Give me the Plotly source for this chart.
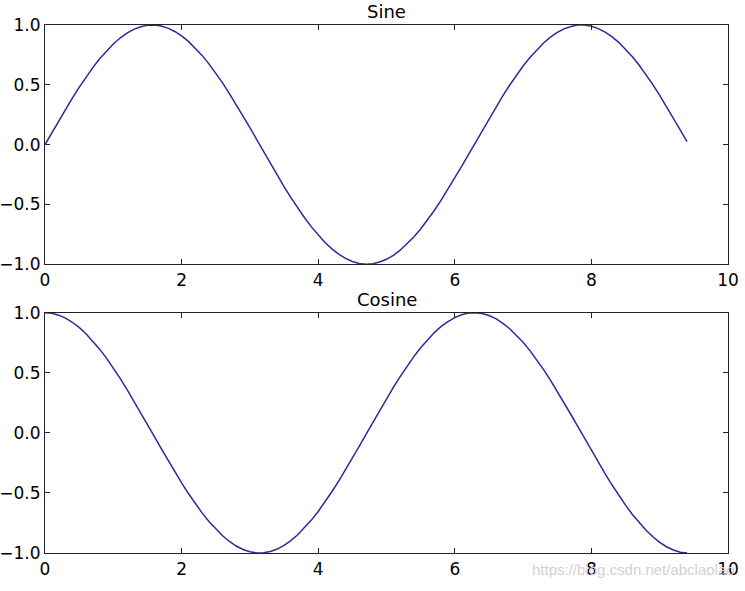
import plotly.graph_objects as go
from plotly.subplots import make_subplots

# x samples (0 .. ~3*pi, step 0.1) and the values
x_vals = [0.0, 0.1, 0.2, 0.3, 0.4, 0.5, 0.6, 0.7, 0.8, 0.9,
          1.0, 1.1, 1.2, 1.3, 1.4, 1.5, 1.6, 1.7, 1.8, 1.9,
          2.0, 2.1, 2.2, 2.3, 2.4, 2.5, 2.6, 2.7, 2.8, 2.9,
          3.0, 3.1, 3.2, 3.3, 3.4, 3.5, 3.6, 3.7, 3.8, 3.9,
          4.0, 4.1, 4.2, 4.3, 4.4, 4.5, 4.6, 4.7, 4.8, 4.9,
          5.0, 5.1, 5.2, 5.3, 5.4, 5.5, 5.6, 5.7, 5.8, 5.9,
          6.0, 6.1, 6.2, 6.3, 6.4, 6.5, 6.6, 6.7, 6.8, 6.9,
          7.0, 7.1, 7.2, 7.3, 7.4, 7.5, 7.6, 7.7, 7.8, 7.9,
          8.0, 8.1, 8.2, 8.3, 8.4, 8.5, 8.6, 8.7, 8.8, 8.9,
          9.0, 9.1, 9.2, 9.3, 9.4]

sine_vals = [0.000, 0.100, 0.199, 0.296, 0.389, 0.479, 0.565, 0.644, 0.717, 0.783,
             0.841, 0.891, 0.932, 0.964, 0.985, 0.997, 1.000, 0.992, 0.974, 0.946,
             0.909, 0.863, 0.808, 0.746, 0.675, 0.598, 0.516, 0.427, 0.335, 0.239,
             0.141, 0.042, -0.058, -0.158, -0.256, -0.351, -0.443, -0.530, -0.612, -0.688,
             -0.757, -0.818, -0.872, -0.916, -0.952, -0.978, -0.994, -1.000, -0.996, -0.982,
             -0.959, -0.926, -0.883, -0.832, -0.773, -0.706, -0.631, -0.551, -0.465, -0.374,
             -0.279, -0.182, -0.083, 0.017, 0.117, 0.215, 0.312, 0.405, 0.494, 0.578,
             0.657, 0.729, 0.794, 0.850, 0.899, 0.938, 0.968, 0.988, 0.999, 0.999,
             0.989, 0.970, 0.941, 0.902, 0.855, 0.798, 0.734, 0.663, 0.585, 0.501,
             0.412, 0.319, 0.223, 0.124, 0.025]

cosine_vals = [1.000, 0.995, 0.980, 0.955, 0.921, 0.878, 0.825, 0.765, 0.697, 0.622,
               0.540, 0.454, 0.362, 0.267, 0.170, 0.071, -0.029, -0.129, -0.227, -0.323,
               -0.416, -0.505, -0.589, -0.666, -0.737, -0.801, -0.857, -0.904, -0.942, -0.971,
               -0.990, -0.999, -0.998, -0.987, -0.967, -0.936, -0.897, -0.848, -0.791, -0.726,
               -0.654, -0.575, -0.490, -0.401, -0.307, -0.211, -0.112, -0.012, 0.088, 0.187,
               0.284, 0.378, 0.469, 0.554, 0.635, 0.709, 0.776, 0.835, 0.886, 0.927,
               0.960, 0.983, 0.997, 1.000, 0.993, 0.977, 0.951, 0.914, 0.869, 0.815,
               0.754, 0.685, 0.609, 0.527, 0.439, 0.347, 0.251, 0.153, 0.054, -0.046,
               -0.146, -0.244, -0.340, -0.432, -0.519, -0.602, -0.679, -0.748, -0.811, -0.865,
               -0.911, -0.948, -0.975, -0.993, -1.000]

titles = ["Sine", "Cosine"]
x_ticks = [0, 2, 4, 6, 8, 10]
y_ticks = [-1.0, -0.5, 0.0, 0.5, 1.0]
y_tick_labels = ["\u22121.0", "\u22120.5", "0.0", "0.5", "1.0"]
watermark = "https://blog.csdn.net/abclaolao"

line_color = "#2a2a9c"
font_main = "DejaVu Sans"

fig = make_subplots(rows=2, cols=1)

fig.add_trace(go.Scatter(x=x_vals, y=sine_vals, mode="lines",
                         line=dict(color=line_color, width=1.5), showlegend=False), row=1, col=1)
fig.add_trace(go.Scatter(x=x_vals, y=cosine_vals, mode="lines",
                         line=dict(color=line_color, width=1.5), showlegend=False), row=2, col=1)

axis_style = dict(showline=True, linecolor="#222222", linewidth=1.2, mirror="ticks",
                  ticks="inside", ticklen=5, tickcolor="#222222", showgrid=False, zeroline=False,
                  automargin=False,
                  tickfont=dict(family=font_main, size=17, color="black"))

fig.update_xaxes(range=[0, 10], tickvals=x_ticks, **axis_style)
fig.update_yaxes(range=[-1, 1], tickvals=y_ticks, ticktext=y_tick_labels, **axis_style)

fig.update_layout(
    width=745, height=591,
    margin=dict(l=45, r=17, t=25, b=38),
    paper_bgcolor="white", plot_bgcolor="white",
    xaxis=dict(domain=[0, 1]), xaxis2=dict(domain=[0, 1]),
    yaxis=dict(domain=[0.547, 1.0]), yaxis2=dict(domain=[0.0, 0.455]),
)

# subplot titles
fig.add_annotation(text=titles[0], xref="paper", yref="paper", x=0.5, y=1.0, yshift=1,
                   xanchor="center", yanchor="bottom", showarrow=False,
                   font=dict(family=font_main, size=18, color="black"))
fig.add_annotation(text=titles[1], xref="paper", yref="paper", x=0.5, y=0.455, yshift=1,
                   xanchor="center", yanchor="bottom", showarrow=False,
                   font=dict(family=font_main, size=18, color="black"))

# watermark
fig.add_annotation(text=watermark, xref="paper", yref="paper", x=1.013, y=-0.032,
                   xanchor="right", yanchor="middle", showarrow=False,
                   font=dict(family="Liberation Sans", size=15, color="#d2d2d2"))

# drop the default 8px body margin so the figure fills the window
fig.write_html("out.html", config={"displayModeBar": False},
               post_script="document.body.style.margin = '0';")
